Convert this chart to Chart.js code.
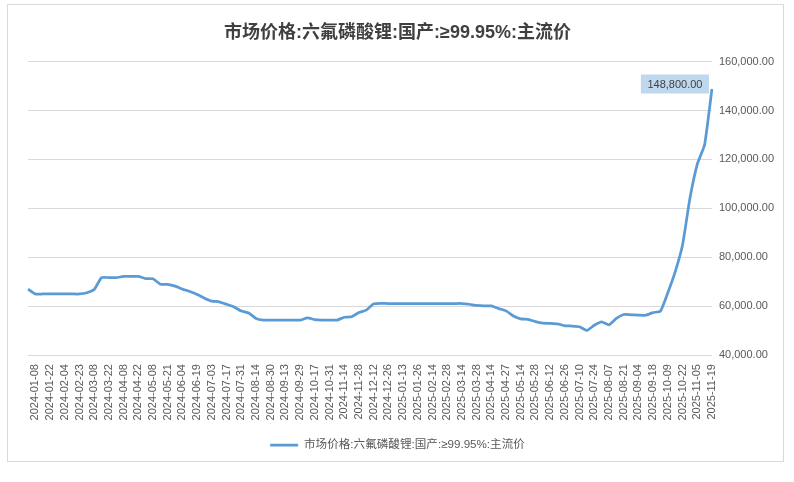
<!DOCTYPE html>
<html><head><meta charset="utf-8">
<script src="https://cdn.jsdelivr.net/npm/chart.js@4.4.1/dist/chart.umd.min.js"></script>
<style>html,body{margin:0;padding:0;background:#fff}</style>
</head><body>
<canvas id="c" width="794" height="482"></canvas>
<script>
const chartTitle = '市场价格:六氟磷酸锂:国产:≥99.95%:主流价';
const seriesName = '市场价格:六氟磷酸锂:国产:≥99.95%:主流价';

const dates = [
  '2024-01-02','2024-01-08','2024-01-15','2024-01-22','2024-01-29','2024-02-04','2024-02-18','2024-02-23',
  '2024-03-01','2024-03-08','2024-03-15','2024-03-22','2024-03-29','2024-04-08','2024-04-15','2024-04-22',
  '2024-04-29','2024-05-08','2024-05-15','2024-05-21','2024-05-28','2024-06-04','2024-06-12','2024-06-19',
  '2024-06-26','2024-07-03','2024-07-10','2024-07-17','2024-07-24','2024-07-31','2024-08-07','2024-08-14',
  '2024-08-21','2024-08-30','2024-09-06','2024-09-13','2024-09-23','2024-09-29','2024-10-11','2024-10-17',
  '2024-10-24','2024-10-31','2024-11-07','2024-11-14','2024-11-21','2024-11-28','2024-12-05','2024-12-12',
  '2024-12-19','2024-12-26','2025-01-03','2025-01-13','2025-01-20','2025-01-26','2025-02-08','2025-02-14',
  '2025-02-21','2025-02-28','2025-03-07','2025-03-14','2025-03-21','2025-03-28','2025-04-07','2025-04-14',
  '2025-04-21','2025-04-27','2025-05-07','2025-05-14','2025-05-21','2025-05-28','2025-06-05','2025-06-12',
  '2025-06-19','2025-06-26','2025-07-03','2025-07-10','2025-07-17','2025-07-24','2025-07-31','2025-08-07',
  '2025-08-14','2025-08-21','2025-08-28','2025-09-04','2025-09-11','2025-09-18','2025-09-25','2025-10-09',
  '2025-10-15','2025-10-22','2025-10-29','2025-11-05','2025-11-12','2025-11-19'
];

const prices = [
  67000, 65000, 65000, 65000, 65000, 65000, 65000, 65000,
  65500, 66800, 71700, 71700, 71700, 72200, 72200, 72200,
  71300, 71200, 69000, 68900, 68200, 67000, 66000, 64800,
  63300, 62100, 61800, 60800, 59700, 58000, 57200, 55000,
  54300, 54300, 54300, 54300, 54300, 54300, 55200, 54500,
  54300, 54300, 54300, 55500, 55700, 57400, 58400, 61000,
  61200, 61100, 61100, 61100, 61100, 61100, 61100, 61100,
  61100, 61100, 61100, 61100, 60800, 60300, 60100, 60100,
  59000, 58100, 56000, 54800, 54600, 53700, 53100, 53000,
  52800, 52000, 51900, 51600, 50100, 52200, 53600, 52400,
  55000, 56600, 56500, 56400, 56300, 57400, 58000, 65500,
  74000, 85000, 104000, 118000, 126000, 148800
];

const yMin = 40000, yMax = 160000, yStep = 20000;
const FONT = "'Liberation Sans', 'Noto Sans CJK SC', sans-serif";
const fmt = v => v.toLocaleString('en-US', {minimumFractionDigits: 2, maximumFractionDigits: 2});

const framePlugin = {
  id: 'frame',
  beforeDraw(chart) {
    const ctx = chart.ctx;
    ctx.save();
    ctx.fillStyle = '#ffffff';
    ctx.fillRect(0, 0, chart.width, chart.height);
    ctx.strokeStyle = '#d9d9d9';
    ctx.lineWidth = 1;
    ctx.strokeRect(7.5, 4.5, 776, 457);
    ctx.restore();
  }
};

const lastLabelPlugin = {
  id: 'lastLabel',
  afterDatasetsDraw(chart) {
    const ctx = chart.ctx;
    const meta = chart.getDatasetMeta(0);
    const i = prices.length - 1;
    const pt = meta.data[i];
    const text = fmt(prices[i]);
    ctx.save();
    ctx.font = '11px ' + FONT;
    const w = ctx.measureText(text).width + 13;
    const h = 19;
    const right = pt.x - 3;
    const cy = pt.y - 5;
    ctx.fillStyle = '#c0d8ee';
    ctx.fillRect(right - w, cy - h / 2, w, h);
    ctx.fillStyle = '#404040';
    ctx.textAlign = 'center';
    ctx.textBaseline = 'middle';
    ctx.fillText(text, right - w / 2, cy + 0.5);
    ctx.restore();
  }
};

new Chart(document.getElementById('c'), {
  type: 'line',
  data: {
    labels: dates,
    datasets: [{
      label: seriesName,
      data: prices,
      yAxisID: 'y',
      borderColor: '#5b9bd5',
      backgroundColor: '#5b9bd5',
      borderWidth: 2.75,
      pointRadius: 0,
      tension: 0.15,
      fill: false
    }]
  },
  options: {
    responsive: false,
    animation: false,
    devicePixelRatio: 1,
    layout: { padding: { left: 14, right: 13, top: 10, bottom: 21 } },
    plugins: {
      title: {
        display: true,
        text: chartTitle,
        color: '#404040',
        font: { family: FONT, size: 18, weight: 'bold' },
        padding: { top: 12, bottom: 18 }
      },
      legend: {
        display: true,
        position: 'bottom',
        labels: {
          usePointStyle: true,
          pointStyle: 'line',
          pointStyleWidth: 28,
          boxHeight: 12,
          color: '#595959',
          font: { family: FONT, size: 11.6 },
          padding: 10
        }
      },
      tooltip: { enabled: false }
    },
    scales: {
      x: {
        type: 'category',
        offset: false,
        grid: { display: false, drawTicks: false },
        border: { display: false },
        ticks: {
          autoSkip: false,
          maxRotation: 90,
          minRotation: 90,
          padding: 9,
          color: '#595959',
          font: { family: FONT, size: 11 },
          callback: (v, i) => (i % 2 === 1 ? dates[i] : null)
        }
      },
      y: {
        position: 'right',
        min: yMin,
        max: yMax,
        grid: { color: '#d9d9d9', lineWidth: 1, drawTicks: false },
        border: { display: false },
        ticks: {
          stepSize: yStep,
          padding: 7,
          color: '#595959',
          font: { family: FONT, size: 11 },
          callback: v => fmt(v)
        }
      },
      yPad: {
        type: 'linear',
        position: 'left',
        display: true,
        grid: { display: false, drawTicks: false },
        border: { display: false },
        ticks: { display: false },
        afterFit: s => { s.width = 14; }
      }
    }
  },
  plugins: [framePlugin, lastLabelPlugin]
});
</script>
</body></html>
